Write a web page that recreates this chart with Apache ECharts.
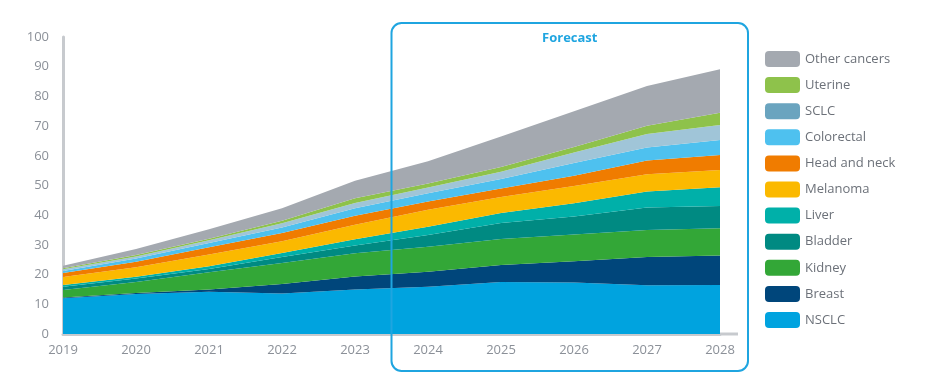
<!DOCTYPE html>
<html>
<head>
<meta charset="utf-8">
<script src="https://cdn.jsdelivr.net/npm/echarts@6/dist/echarts.min.js"></script>
<style>html,body{margin:0;padding:0;background:#fff;}#c{width:930px;height:380px;}</style>
</head>
<body>
<div id="c"></div>
<script>
const years = ['2019','2020','2021','2022','2023','2024','2025','2026','2027','2028'];
const yTicks = [0,10,20,30,40,50,60,70,80,90,100];
const NSCLC      = [12.0,13.5,14.2,13.6,15.0,15.9,17.5,17.3,16.4,16.5];
const Breast     = [0.3, 0.3, 0.8, 3.2, 4.4, 5.1, 5.7, 7.2, 9.5, 9.9];
const Kidney     = [2.5, 3.7, 5.8, 7.1, 7.8, 8.4, 8.8, 9.0, 9.1, 9.2];
const Bladder    = [1.1, 1.2, 1.1, 2.0, 2.6, 3.9, 5.4, 6.1, 7.6, 7.5];
const Liver      = [0.6, 0.6, 0.9, 1.4, 2.1, 2.8, 3.3, 4.4, 5.4, 6.3];
const Melanoma   = [2.7, 3.2, 4.0, 3.9, 4.9, 5.7, 5.4, 5.8, 5.8, 5.8];
const HeadNeck   = [1.3, 1.8, 2.4, 2.8, 3.0, 2.8, 2.9, 3.5, 4.6, 5.1];
const Colorectal = [0.7, 1.1, 1.4, 1.9, 2.5, 2.8, 3.2, 4.3, 4.4, 5.0];
const SCLC       = [0.6, 0.7, 1.0, 1.4, 1.8, 1.9, 2.4, 3.5, 4.5, 5.1];
const Uterine    = [0.3, 0.5, 0.5, 0.8, 1.6, 1.4, 1.6, 1.9, 2.8, 4.1];
const Other      = [0.9, 2.0, 3.2, 4.2, 5.9, 7.5, 10.3,12.0,13.4,14.6];

const seriesDefs = [
  {name:'NSCLC', data:NSCLC, color:'#00a3df', legend:'#00a3df'},
  {name:'Breast', data:Breast, color:'#00467b', legend:'#00467b'},
  {name:'Kidney', data:Kidney, color:'#33a737', legend:'#33a737'},
  {name:'Bladder', data:Bladder, color:'#008a82', legend:'#008a82'},
  {name:'Liver', data:Liver, color:'#00b0a9', legend:'#00b0a9'},
  {name:'Melanoma', data:Melanoma, color:'#fbb900', legend:'#fbb900'},
  {name:'Head and neck', data:HeadNeck, color:'#f07c00', legend:'#f07c00'},
  {name:'Colorectal', data:Colorectal, color:'#4ec1ef', legend:'#4ec1ef'},
  {name:'SCLC', data:SCLC, color:'#a0c5d8', legend:'#6aa4bf'},
  {name:'Uterine', data:Uterine, color:'#8ec24b', legend:'#8ec24b'},
  {name:'Other cancers', data:Other, color:'#a4a9b0', legend:'#a4a9b0'}
];

const chart = echarts.init(document.getElementById('c'), null, {renderer:'canvas'});
const FONT = '"Open Sans", "Noto Sans", sans-serif';
const option = {
  animation:false,
  grid:{left:63, right:210, top:37, bottom:46},
  xAxis:{
    type:'category', data:years, boundaryGap:false,
    axisLine:{show:true, lineStyle:{color:'#c7cace', width:3}},
    axisTick:{show:false},
    axisLabel:{color:'#8b9098', fontSize:13, fontFamily:FONT, margin:10},
    splitLine:{show:false}
  },
  yAxis:{
    type:'value', min:0, max:100, interval:10,
    axisLine:{show:true, lineStyle:{color:'#c7cace', width:3}},
    axisTick:{show:false},
    axisLabel:{color:'#8b9098', fontSize:13, fontFamily:FONT, margin:14,
      formatter:v=> yTicks.indexOf(v)>=0 ? String(v) : ''},
    splitLine:{show:false}
  },
  legend:{
    orient:'vertical', left:765, top:51, padding:0,
    itemWidth:35, itemHeight:16, itemGap:10.1,
    icon:'roundRect',
    textStyle:{color:'#6c7179', fontSize:13, fontFamily:FONT},
    data:seriesDefs.slice().reverse().map(s=>({name:s.name, itemStyle:{color:s.legend}}))
  },
  series:seriesDefs.map(s=>({
    name:s.name, type:'line', stack:'total', data:s.data,
    smooth:false,
    showSymbol:false, symbol:'none',
    lineStyle:{width:0, color:s.color},
    itemStyle:{color:s.legend},
    areaStyle:{color:s.color, opacity:1},
    emphasis:{disabled:true}
  }))
};
chart.setOption(option);

const p23 = chart.convertToPixel({xAxisIndex:0}, '2023');
const p24 = chart.convertToPixel({xAxisIndex:0}, '2024');
const p28 = chart.convertToPixel({xAxisIndex:0}, '2028');
const y0 = chart.convertToPixel({yAxisIndex:0}, 0);
const boxLeft = (p23 + p24)/2;
const boxRight = p28 + 28;
chart.setOption({
  graphic:[
    {type:'line', shape:{x1:p28, y1:y0, x2:p28+18, y2:y0}, style:{stroke:'#c7cace', lineWidth:3}, z:10},
    {type:'rect', shape:{x:boxLeft, y:23, width:boxRight-boxLeft, height:348, r:10},
     style:{fill:'none', stroke:'#1fa5e0', lineWidth:2}, z:20},
    {type:'text', x:(boxLeft+boxRight)/2, y:38,
     style:{text:'Forecast', fill:'#1fa5e0', font:'bold 13px "Open Sans", sans-serif', textAlign:'center', textVerticalAlign:'middle'}, z:20}
  ]
});
</script>
</body>
</html>
